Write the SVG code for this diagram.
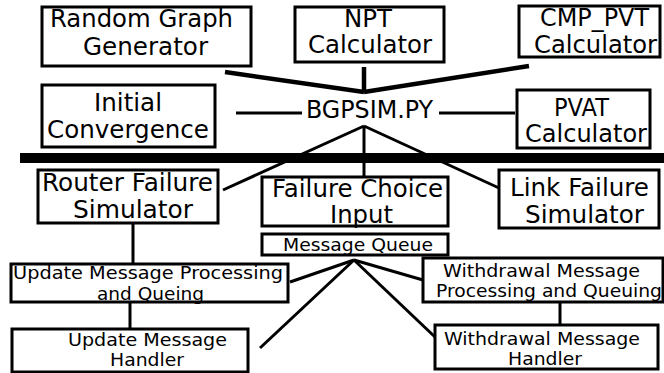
<svg xmlns="http://www.w3.org/2000/svg" width="664" height="373" viewBox="0 0 664 373">
<style>
.box{fill:#fff;stroke:#000;stroke-width:3}
.t{font-family:"DejaVu Sans",sans-serif;font-size:24px;fill:#000}
.s{font-family:"DejaVu Sans",sans-serif;font-size:18px;fill:#000}
.ln{stroke:#000;stroke-width:3;fill:none;stroke-linecap:butt}
.thk{stroke:#000;stroke-width:4.5;fill:none}
</style>
<rect width="664" height="373" fill="#fff"/>
<g id="connectors">
<line class="thk" x1="225" y1="72" x2="364" y2="92"/>
<line class="thk" x1="364" y1="67" x2="364" y2="92" stroke-width="5"/>
<line class="thk" x1="529" y1="66" x2="364" y2="92"/>
<line class="ln" x1="236" y1="113" x2="302" y2="113" stroke-width="2.5"/>
<line class="ln" x1="439" y1="113" x2="515" y2="113" stroke-width="2.5"/>
<line class="ln" x1="364" y1="126" x2="223" y2="190"/>
<line class="ln" x1="364" y1="126" x2="364" y2="177"/>
<line class="ln" x1="364" y1="126" x2="499" y2="188"/>
<rect x="20" y="153" width="644" height="10" fill="#000"/>
<line class="ln" x1="133" y1="223" x2="133" y2="264"/>
<line class="ln" x1="130" y1="302" x2="130" y2="329"/>
<line class="ln" x1="354" y1="260" x2="290" y2="282"/>
<line class="ln" x1="354" y1="260" x2="260" y2="348"/>
<line class="ln" x1="354" y1="260" x2="423" y2="280"/>
<line class="ln" x1="354" y1="260" x2="435" y2="337"/>
<line class="ln" x1="560" y1="302" x2="560" y2="325"/>
</g>
<g id="random-graph">
<rect class="box" x="42" y="7" width="209" height="59"/>
<text class="t" x="50" y="27" textLength="183" lengthAdjust="spacingAndGlyphs">Random Graph</text>
<text class="t" x="83" y="55" textLength="125" lengthAdjust="spacingAndGlyphs">Generator</text>
</g>
<g id="npt">
<rect class="box" x="295" y="7" width="149" height="55"/>
<text class="t" x="344" y="27" textLength="48" lengthAdjust="spacingAndGlyphs">NPT</text>
<text class="t" x="308" y="53" textLength="124" lengthAdjust="spacingAndGlyphs">Calculator</text>
</g>
<g id="cmp-pvt">
<rect class="box" x="519" y="6" width="141" height="51"/>
<text class="t" x="540" y="26" textLength="109" lengthAdjust="spacingAndGlyphs">CMP_PVT</text>
<text class="t" x="534" y="53" textLength="123" lengthAdjust="spacingAndGlyphs">Calculator</text>
</g>
<g id="initial">
<rect class="box" x="42" y="85" width="173" height="62"/>
<text class="t" x="94" y="111" textLength="68" lengthAdjust="spacingAndGlyphs">Initial</text>
<text class="t" x="47" y="138" textLength="162" lengthAdjust="spacingAndGlyphs">Convergence</text>
</g>
<g id="bgpsim">
<text class="t" x="306" y="118" textLength="127" lengthAdjust="spacingAndGlyphs">BGPSIM.PY</text>
</g>
<g id="pvat">
<rect class="box" x="517" y="90" width="133" height="58"/>
<text class="t" x="554" y="116" textLength="55" lengthAdjust="spacingAndGlyphs">PVAT</text>
<text class="t" x="525" y="142" textLength="122" lengthAdjust="spacingAndGlyphs">Calculator</text>
</g>
<g id="router-failure">
<rect class="box" x="38" y="170" width="180" height="53"/>
<text class="t" x="42" y="191" textLength="171" lengthAdjust="spacingAndGlyphs">Router Failure</text>
<text class="t" x="73" y="218" textLength="120" lengthAdjust="spacingAndGlyphs">Simulator</text>
</g>
<g id="failure-choice">
<rect class="box" x="262" y="177" width="186" height="49"/>
<text class="t" x="272" y="197" textLength="171" lengthAdjust="spacingAndGlyphs">Failure Choice</text>
<text class="t" x="330" y="223" textLength="63" lengthAdjust="spacingAndGlyphs">Input</text>
</g>
<g id="link-failure">
<rect class="box" x="499" y="170" width="160" height="58"/>
<text class="t" x="510" y="196" textLength="139" lengthAdjust="spacingAndGlyphs">Link Failure</text>
<text class="t" x="525" y="223" textLength="119" lengthAdjust="spacingAndGlyphs">Simulator</text>
</g>
<g id="message-queue">
<rect class="box" x="262" y="234" width="186" height="21"/>
<text class="s" x="283" y="251" textLength="150" lengthAdjust="spacingAndGlyphs">Message Queue</text>
</g>
<g id="update-processing">
<rect class="box" x="11" y="264" width="277" height="38"/>
<text class="s" x="13" y="279" textLength="270" lengthAdjust="spacingAndGlyphs">Update Message Processing</text>
<text class="s" x="97" y="300" textLength="107" lengthAdjust="spacingAndGlyphs">and Queing</text>
</g>
<g id="update-handler">
<rect class="box" x="12" y="329" width="236" height="43"/>
<text class="s" x="68" y="346" textLength="159" lengthAdjust="spacingAndGlyphs">Update Message</text>
<text class="s" x="110" y="366" textLength="74" lengthAdjust="spacingAndGlyphs">Handler</text>
</g>
<g id="withdrawal-processing">
<rect class="box" x="423" y="258" width="240" height="44"/>
<text class="s" x="443" y="277" textLength="197" lengthAdjust="spacingAndGlyphs">Withdrawal Message</text>
<text class="s" x="436" y="297" textLength="226" lengthAdjust="spacingAndGlyphs">Processing and Queuing</text>
</g>
<g id="withdrawal-handler">
<rect class="box" x="435" y="325" width="223" height="44"/>
<text class="s" x="444" y="345" textLength="196" lengthAdjust="spacingAndGlyphs">Withdrawal Message</text>
<text class="s" x="508" y="365" textLength="74" lengthAdjust="spacingAndGlyphs">Handler</text>
</g>
</svg>
